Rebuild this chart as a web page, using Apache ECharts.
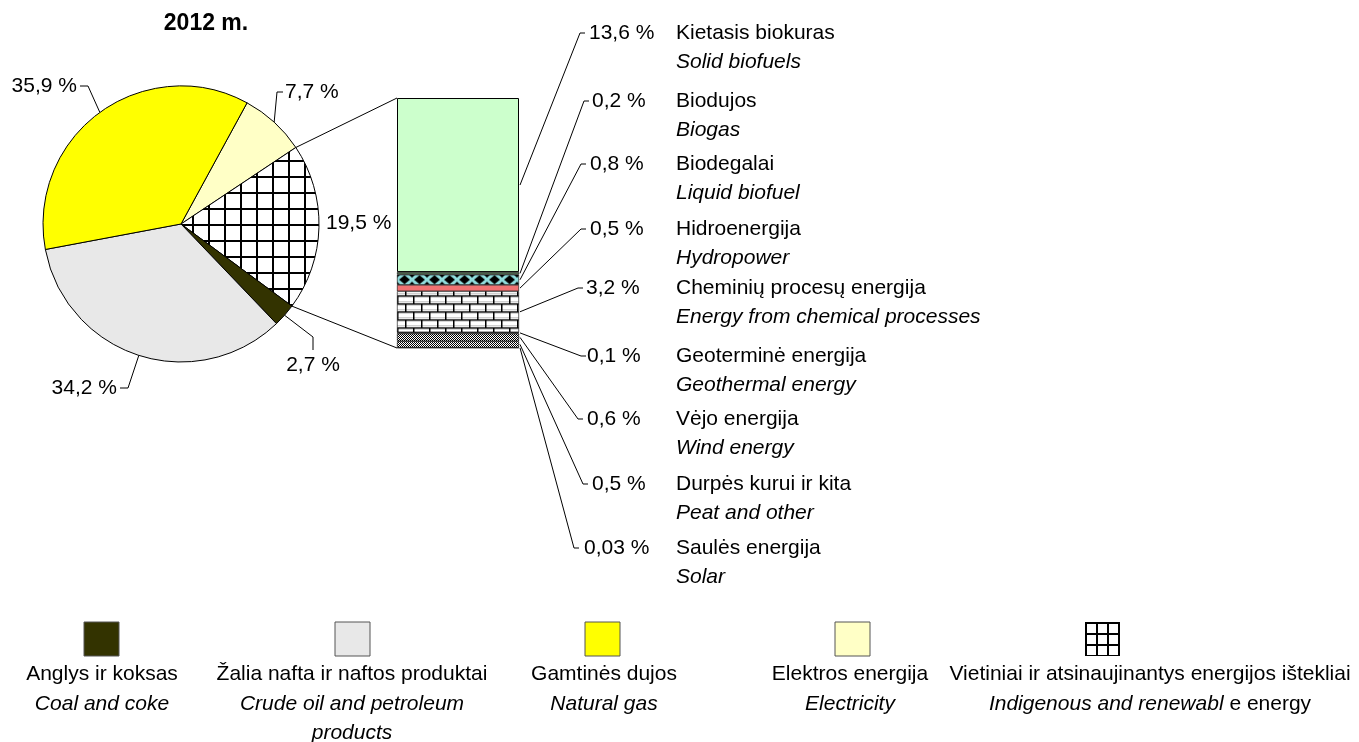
<!DOCTYPE html>
<html>
<head>
<meta charset="utf-8">
<script src="https://cdn.jsdelivr.net/npm/echarts@6/dist/echarts.min.js"></script>
<style>
  html, body { margin: 0; padding: 0; background: #fff; }
  #chart { width: 1359px; height: 742px; }
</style>
</head>
<body>
<div id="chart"></div>
<script>
// pagrindiniai šaltiniai (legendos tvarka)
const sourceNamesLt = ['Anglys ir koksas', 'Žalia nafta ir naftos produktai', 'Gamtinės dujos', 'Elektros energija', 'Vietiniai ir atsinaujinantys energijos ištekliai'];
const sourceNamesEn = ['Coal and coke', 'Crude oil and petroleum\nproducts', 'Natural gas', 'Electricity', '{i|Indigenous and renewabl} e energy'];
const sourceShares = [2.7, 34.2, 35.9, 7.7, 19.5];
// skritulio sektorių tvarka pagal laikrodžio rodyklę
const pieOrder = [3, 4, 0, 1, 2];

// vietiniai ir atsinaujinantys ištekliai (iš viršaus į apačią)
const renewNamesLt = ['Kietasis biokuras', 'Biodujos', 'Biodegalai', 'Hidroenergija', 'Cheminių procesų energija', 'Geoterminė energija', 'Vėjo energija', 'Durpės kurui ir kita', 'Saulės energija'];
const renewNamesEn = ['Solid biofuels', 'Biogas', 'Liquid biofuel', 'Hydropower', 'Energy from chemical processes', 'Geothermal energy', 'Wind energy', 'Peat and other', 'Solar'];
const renewShares = [13.6, 0.2, 0.8, 0.5, 3.2, 0.1, 0.6, 0.5, 0.03];

const FONT = '"Liberation Sans", Arial, sans-serif';
const FS = 21;
const fmtPct = v => String(v).replace('.', ',') + ' %';

// išdėstymas
const pieCenter = [181, 224];
const pieRadius = 138;
const pieStart = 28.6; // laipsniai nuo viršaus, pagal laikrodžio rodyklę
const barBox = { left: 397, top: 98, width: 122, height: 250 };

const renewTotal = renewShares.reduce((a, b) => a + b, 0);
// segmento viršus pikseliais (raštui pririšti)
const segTop = i => barBox.top + barBox.height * renewShares.slice(0, i).reduce((a, b) => a + b, 0) / renewTotal;

// raštai
function tile(w, h, draw, dx, dy) {
  const c = document.createElement('canvas');
  c.width = w; c.height = h;
  const g = c.getContext('2d');
  draw(g, w, h);
  return { image: c, repeat: 'repeat', x: dx || 0, y: dy || 0 };
}
const gridPattern = size => tile(size, size, (g, w) => {
  g.fillStyle = '#fff'; g.fillRect(0, 0, w, w);
  g.fillStyle = '#000'; g.fillRect(0, 0, w, 2); g.fillRect(0, 0, 2, w);
});
const brickPattern = tile(16, 16, g => {
  g.fillStyle = '#fff'; g.fillRect(0, 0, 16, 16);
  g.fillStyle = '#bbb'; g.fillRect(0, 6, 16, 1); g.fillRect(0, 14, 16, 1);
  g.fillStyle = '#000';
  g.fillRect(0, 0, 16, 1.5); g.fillRect(0, 8, 16, 1.5);
  g.fillRect(0, 0, 1.5, 8); g.fillRect(8, 8, 1.5, 8);
}, barBox.left, segTop(4) + 4);
const diamondPattern = tile(15, 10, g => {
  g.fillStyle = '#90DCDC'; g.fillRect(0, 0, 15, 10);
  g.fillStyle = '#000';
  g.beginPath(); g.moveTo(7.5, 0.5); g.lineTo(13, 5); g.lineTo(7.5, 9.5); g.lineTo(2, 5); g.closePath(); g.fill();
  g.beginPath(); g.moveTo(0, 0); g.lineTo(3, 0); g.lineTo(0, 3); g.fill();
  g.beginPath(); g.moveTo(15, 0); g.lineTo(12, 0); g.lineTo(15, 3); g.fill();
  g.beginPath(); g.moveTo(0, 10); g.lineTo(3, 10); g.lineTo(0, 7); g.fill();
  g.beginPath(); g.moveTo(15, 10); g.lineTo(12, 10); g.lineTo(15, 7); g.fill();
}, barBox.left, segTop(2));
const dotPattern = tile(2, 2, g => {
  g.fillStyle = '#fff'; g.fillRect(0, 0, 2, 2);
  g.fillStyle = '#000'; g.fillRect(0, 0, 1, 1); g.fillRect(1, 1, 1, 1);
});

const sourceColors = ['#333300', '#E8E8E8', '#FFFF00', '#FFFFC6', gridPattern(16)];
const renewColors = ['#CCFFCC', '#4F6B4F', diamondPattern, '#F07272', brickPattern, '#333', dotPattern, dotPattern, '#000'];

const chart = echarts.init(document.getElementById('chart'));
chart.setOption({
  animation: false,
  backgroundColor: '#fff',
  grid: { left: barBox.left, top: barBox.top, width: barBox.width, height: barBox.height },
  xAxis: { type: 'category', data: [''], show: false },
  yAxis: { type: 'value', min: 0, max: renewTotal, inverse: true, show: false },
  series: [
    {
      type: 'pie',
      center: pieCenter,
      radius: pieRadius,
      startAngle: 90 - pieStart,
      clockwise: true,
      silent: true,
      label: { show: false },
      labelLine: { show: false },
      itemStyle: { borderColor: '#000', borderWidth: 1 },
      data: pieOrder.map(i => ({ name: sourceNamesLt[i], value: sourceShares[i], itemStyle: { color: sourceColors[i] } }))
    },
    ...renewShares.map((v, i) => ({
      type: 'bar',
      name: renewNamesLt[i],
      stack: 'renew',
      barWidth: '100%',
      silent: true,
      itemStyle: { color: renewColors[i], borderColor: '#000', borderWidth: i === 0 ? 1 : 0.6 },
      data: [v]
    }))
  ]
});

// pagalbinės funkcijos
const txt = (text, x, y, opts) => ({
  type: 'text', silent: true,
  style: Object.assign({ text, x, y, fill: '#000', fontSize: FS, fontFamily: FONT, textAlign: 'left', textVerticalAlign: 'middle' }, opts || {})
});
const line = pts => ({ type: 'polyline', silent: true, shape: { points: pts }, style: { stroke: '#000', lineWidth: 1, fill: null } });
const piePoint = pct => {
  const a = (pieStart + pct * 3.6) * Math.PI / 180;
  return [pieCenter[0] + pieRadius * Math.sin(a), pieCenter[1] - pieRadius * Math.cos(a)];
};

const graphics = [];
graphics.push(txt('2012 m.', 206, 24, { textAlign: 'center', fontSize: 23, fontWeight: 'bold' }));

// skritulio žymos (legendos tvarka)
const pieLabelLayout = [
  { elbow: [313, 337], end: [313, 350], x: 313, y: 365, align: 'center' },
  { elbow: [128, 388], end: [120, 388], x: 117, y: 388, align: 'right' },
  { elbow: [88, 86], end: [80, 86], x: 77, y: 86, align: 'right' },
  { elbow: [277, 92], end: [283, 92], x: 285, y: 92, align: 'left' },
  { elbow: null, end: null, x: 326, y: 223, align: 'left' }
];
let cum = 0;
const sliceStart = {};
pieOrder.forEach(i => { sliceStart[i] = cum; cum += sourceShares[i]; });
sourceShares.forEach((v, i) => {
  const L = pieLabelLayout[i];
  if (L.elbow) graphics.push(line([piePoint(sliceStart[i] + v / 2), L.elbow, L.end]));
  graphics.push(txt(fmtPct(v), L.x, L.y, { textAlign: L.align }));
});

// jungiamosios linijos tarp skritulio ir stulpelio
const gridIdx = 4;
graphics.push(line([piePoint(sliceStart[gridIdx]), [barBox.left, chart.convertToPixel({ yAxisIndex: 0 }, 0)]]));
graphics.push(line([piePoint(sliceStart[gridIdx] + sourceShares[gridIdx]), [barBox.left, chart.convertToPixel({ yAxisIndex: 0 }, renewTotal)]]));

// stulpelio žymos
const rowY = [33, 101, 164, 229, 288, 356, 419, 484, 548];
const lineEndX = [580, 584, 581, 581, 578, 581, 578, 583, 574];
const pctX = [589, 592, 590, 590, 586, 587, 587, 592, 584];
const nameX = 676;
const barRight = barBox.left + barBox.width;
let acc = 0;
renewShares.forEach((v, i) => {
  const y = chart.convertToPixel({ yAxisIndex: 0 }, acc + v / 2);
  acc += v;
  graphics.push(line([[barRight + 1, y], [lineEndX[i], rowY[i]], [lineEndX[i] + 5, rowY[i]]]));
  graphics.push(txt(fmtPct(v), pctX[i], rowY[i]));
  graphics.push(txt(renewNamesLt[i], nameX, rowY[i]));
  graphics.push(txt(renewNamesEn[i], nameX, rowY[i] + 29, { fontStyle: 'italic' }));
});

// legenda
const legendIconX = [84, 335, 585, 835, 1085];
const legendTextX = [102, 352, 604, 850, 1150];
const legendGridPattern = gridPattern(11.5);
sourceShares.forEach((v, i) => {
  graphics.push({
    type: 'rect', silent: true, x: legendIconX[i], y: 622,
    shape: { x: 0, y: 0, width: 35, height: 34 },
    style: i === 4
      ? { fill: legendGridPattern, stroke: null }
      : { fill: sourceColors[i], stroke: '#555', lineWidth: 1 }
  });
  graphics.push(txt(sourceNamesLt[i], legendTextX[i], 674, { textAlign: 'center' }));
  graphics.push({
    type: 'text', silent: true,
    style: {
      text: sourceNamesEn[i], x: legendTextX[i], y: 690, fill: '#000',
      fontSize: FS, fontFamily: FONT, fontStyle: i === 4 ? 'normal' : 'italic',
      textAlign: 'center', textVerticalAlign: 'top', lineHeight: 29,
      rich: { i: { fontStyle: 'italic', fontSize: FS, fontFamily: FONT } }
    }
  });
});

chart.setOption({ graphic: graphics });
</script>
</body>
</html>
